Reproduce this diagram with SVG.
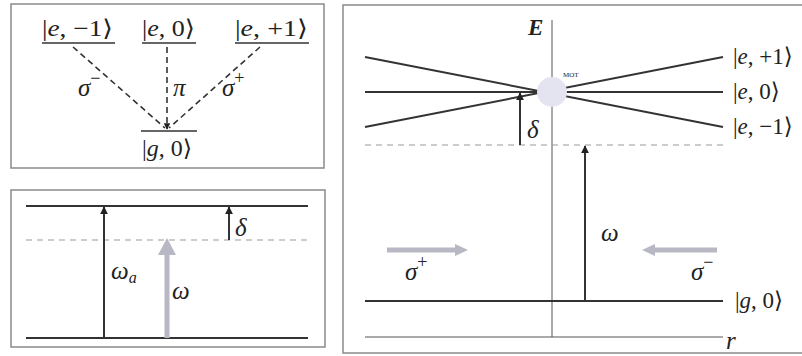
<svg xmlns="http://www.w3.org/2000/svg" width="802" height="356" viewBox="0 0 802 356">
<style>
.box{fill:#fff;stroke:#8a8a8a;stroke-width:1.5}
.lvl{stroke:#333;stroke-width:2;fill:none}
.ul{stroke:#333;stroke-width:1.3;fill:none}
.dash{stroke:#333;stroke-width:1.6;stroke-dasharray:6 4;fill:none}
.gdash{stroke:#999;stroke-width:1.2;stroke-dasharray:6 5;fill:none}
.axis{stroke:#555;stroke-width:1;fill:none}
.arr{stroke:#333;stroke-width:2;fill:none}
.garr{fill:#b8b8c4}
text{font-family:"Liberation Serif","DejaVu Serif",serif;fill:#222}
.ket{font-size:23px}
.m{font-style:italic;font-size:25px}
.sup{font-size:18px;font-style:normal}
</style>
<defs>
<marker id="ah" viewBox="0 0 10 10" refX="9" refY="5" markerWidth="4" markerHeight="4" orient="auto">
<path d="M0,0 L10,5 L0,10 z" fill="#222"/>
</marker>
</defs>
<rect width="802" height="356" fill="#fff"/>

<!-- Top-left panel -->
<g id="panel-tl">
<rect class="box" x="11" y="4" width="313" height="164"/>
<g id="e-minus1">
<text class="ket" x="42" y="36" textLength="71" lengthAdjust="spacingAndGlyphs">|<tspan font-style="italic">e</tspan>, −1⟩</text>
<line class="ul" x1="42" y1="43" x2="115" y2="43"/>
</g>
<g id="e-0">
<text class="ket" x="142" y="36" textLength="53" lengthAdjust="spacingAndGlyphs">|<tspan font-style="italic">e</tspan>, 0⟩</text>
<line class="ul" x1="142" y1="43" x2="196" y2="43"/>
</g>
<g id="e-plus1">
<text class="ket" x="235" y="36" textLength="73" lengthAdjust="spacingAndGlyphs">|<tspan font-style="italic">e</tspan>, +1⟩</text>
<line class="ul" x1="235" y1="43" x2="309" y2="43"/>
</g>
<g id="g-0">
<line class="ul" x1="141" y1="131" x2="197" y2="131"/>
<text class="ket" x="142" y="156" textLength="50" lengthAdjust="spacingAndGlyphs">|<tspan font-style="italic">g</tspan>, 0⟩</text>
</g>
</g>

<!-- Bottom-left panel -->
<g id="panel-bl">
<rect class="box" x="11" y="190" width="314" height="157"/>
<line class="lvl" x1="26" y1="206" x2="308" y2="206"/>
<line class="gdash" x1="26" y1="240" x2="308" y2="240"/>
<line class="lvl" x1="26" y1="338" x2="308" y2="338"/>
</g>

<!-- Right panel -->
<g id="panel-r">
<rect class="box" x="343" y="5" width="470" height="348"/>
<line class="axis" x1="552" y1="20" x2="552" y2="337"/>
<line class="axis" x1="365" y1="337" x2="723" y2="337"/>
<text x="528" y="35" font-size="23" font-weight="bold" font-style="italic">E</text>
<text x="726" y="349" class="m" font-size="21">r</text>
<line class="lvl" x1="365" y1="57" x2="723" y2="127"/>
<line class="lvl" x1="365" y1="127" x2="723" y2="57"/>
<line class="lvl" x1="365" y1="92" x2="723" y2="92"/>
<line class="gdash" x1="365" y1="145" x2="723" y2="145"/>
<line class="lvl" x1="365" y1="301" x2="723" y2="301"/>
</g>
<g id="mot">
<circle cx="552" cy="92" r="15" fill="#e4e4f0"/>
<text x="563" y="77" font-size="7">MOT</text>
</g>
<g id="r-e-plus1"><text class="ket" font-size="22" x="733" y="64">|<tspan font-style="italic">e</tspan>, +1⟩</text></g>
<g id="r-e-0"><text class="ket" font-size="22" x="733" y="99">|<tspan font-style="italic">e</tspan>, 0⟩</text></g>
<g id="r-e-minus1"><text class="ket" font-size="22" x="733" y="134">|<tspan font-style="italic">e</tspan>, −1⟩</text></g>
<g id="r-g-0"><text class="ket" font-size="22" x="735" y="308">|<tspan font-style="italic">g</tspan>, 0⟩</text></g>

<!-- Connectors -->
<g id="connectors">
<line class="dash" x1="73" y1="47" x2="165" y2="128"/>
<line class="dash" x1="167" y1="47" x2="167" y2="129" marker-end="url(#ah)"/>
<line class="dash" x1="260" y1="47" x2="169" y2="128"/>
<line class="arr" x1="104" y1="338" x2="104" y2="207" marker-end="url(#ah)"/>
<line class="arr" x1="229" y1="240" x2="229" y2="207" marker-end="url(#ah)"/>
<line class="arr" x1="520" y1="145" x2="520" y2="93" marker-end="url(#ah)"/>
<line class="arr" x1="585" y1="301" x2="585" y2="146" marker-end="url(#ah)"/>
<polygon class="garr" points="164.5,338 169.5,338 169.5,255 176,255 167,238 158,255 164.5,255"/>
<polygon class="garr" points="387,247.5 455,247.5 455,244 468,250 455,256 455,252.5 387,252.5"/>
<polygon class="garr" points="717,247.5 655,247.5 655,244 642,250 655,256 655,252.5 717,252.5"/>
</g>

<!-- Labels -->
<g id="labels">
<text class="m" x="78" y="96">σ<tspan class="sup" dy="-12">−</tspan></text>
<text class="m" x="173" y="96">π</text>
<text class="m" x="222" y="96">σ<tspan class="sup" dy="-12">+</tspan></text>
<text class="m" x="111" y="279">ω<tspan font-size="16" dy="4">a</tspan></text>
<text class="m" x="172" y="299">ω</text>
<text class="m" x="235" y="236">δ</text>
<text class="m" x="527" y="138">δ</text>
<text class="m" x="601" y="241">ω</text>
<text class="m" x="405" y="280">σ<tspan class="sup" dy="-12">+</tspan></text>
<text class="m" x="691" y="280">σ<tspan class="sup" dy="-12">−</tspan></text>
</g>
</svg>
